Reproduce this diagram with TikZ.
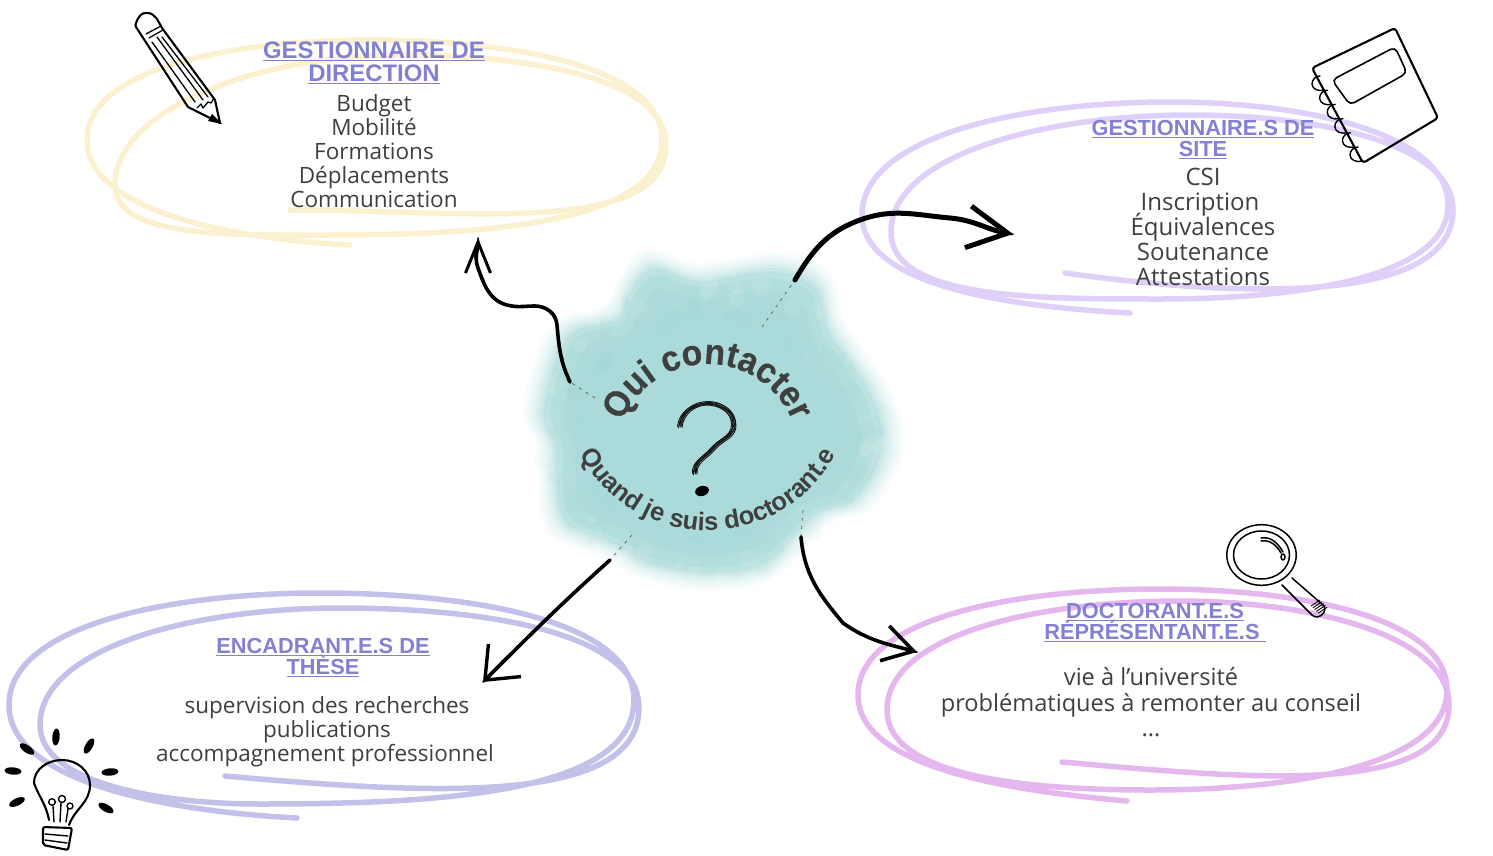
\documentclass[tikz,border=0pt]{standalone}
\usepackage{fontspec}
\setmainfont{Open Sans}
\newfontfamily\titlefont{Liberation Sans}
\newfontfamily\roundfont[FakeStretch=.94,BoldFeatures={FakeBold=.4}]{Liberation Sans}
\usetikzlibrary{arrows.meta,decorations.text,decorations.pathmorphing}

\definecolor{bodytext}{HTML}{3F3F3F}
\definecolor{titletext}{HTML}{8280D2}
\definecolor{blobteal}{HTML}{88CBCA}
\definecolor{loopyellow}{HTML}{FBF0CF}
\definecolor{looplilac}{HTML}{DFD0FA}
\definecolor{loopblue}{HTML}{C3C1E9}
\definecolor{looppink}{HTML}{E4B7EE}

\lineskiplimit=-100pt

\tikzset{
    x=1pt, y=-1pt,
    vtoh/.style={out looseness=.62,in looseness=1.15},
    htov/.style={out looseness=1.15,in looseness=.62},
    loopline/.style={line width=5.5pt,line cap=round,line join=round},
    ink/.style={line width=2.1pt,line cap=round,line join=round},
    inkrough/.style={postaction={draw, arrows=-, line width=1.6pt,
        decorate, decoration={random steps,segment length=3pt,amplitude=1.1pt}}},
    inkarrow/.style={line width=3.6pt,line cap=round,inkrough},
    inkfade/.style={line width=.8pt,black!60,dash pattern=on 3pt off 5pt},
    titlenode/.style={align=center,text=titletext,inner sep=0pt,
        font=\titlefont\bfseries\fontsize{21.8}{21}\selectfont},
    bodynode/.style={align=center,text=bodytext,inner sep=0pt,
        font=\fontsize{22.5}{24}\selectfont},
}

\begin{document}
\begin{tikzpicture}

    \useasboundingbox (0,0) rectangle (1493,856);

    % watercolour
    \foreach \s/\o in {1.10/.05,1.08/.06,1.06/.07,1.04/.09,1.02/.12,1.0/.16,.98/.2,.94/.2,.86/.12,.76/.1}
    {
        \fill [blobteal, fill opacity=\o, scale around={\s:(708,430)}]
            plot [smooth cycle, tension=.6] coordinates {
                (660,266) (700,278) (773,268) (818,285) (832,330)
                (872,390) (886,447) (858,500) (817,517) (767,565)
                (707,576) (650,566) (610,545) (560,520) (552,447)
                (540,410) (565,335) (615,318) (625,295) (643,270)
            };
    }
    \pgfmathsetseed{11}
    \foreach \i in {1,...,120}
    {
        \pgfmathsetmacro\ang{rnd*360}
        \pgfmathsetmacro\rad{.75+rnd*.3}
        \pgfmathsetmacro\dot{3+rnd*8}
        \fill [blobteal, fill opacity=.05]
            (708+\rad*170*cos \ang,430+\rad*145*sin \ang) circle (\dot pt)
            ;
    }
    \foreach \i in {1,...,60}
    {
        \pgfmathsetmacro\ang{rnd*360}
        \pgfmathsetmacro\rad{.92+rnd*.14}
        \pgfmathsetmacro\dot{3+rnd*7}
        \fill [white, fill opacity=.08]
            (708+\rad*170*cos \ang,430+\rad*145*sin \ang) circle (\dot pt)
            ;
    }

    % the four loops
    \draw [loopline, loopyellow]
        (350,245)
        to[out=177,in=-90,htov]
        (87,140)
        to[out=90,in=180,vtoh]
        (370,40)
        to[out=0,in=90,htov]
        (662,140)
        to[out=-90,in=0,vtoh]
        (330,235)
        to[out=180,in=-90,htov]
        (115,185)
        to[out=90,in=180,vtoh]
        (400,55)
        to[out=0,in=90,htov]
        (666,145)
        to[out=-90,in=0,vtoh]
        (290,210)
        ;

    \draw [loopline, looplilac]
        (1130,313)
        to[out=177,in=-90,htov]
        (862,215)
        to[out=90,in=180,vtoh]
        (1170,102)
        to[out=0,in=90,htov]
        (1448,205)
        to[out=-90,in=0,vtoh]
        (1160,299)
        to[out=180,in=-90,htov]
        (891,232)
        to[out=90,in=180,vtoh]
        (1190,115)
        to[out=0,in=90,htov]
        (1453,210)
        to[out=-90,in=-8,vtoh]
        (1065,273)
        ;

    \draw [loopline, loopblue]
        (297,818)
        to[out=177,in=-90,htov]
        (9,705)
        to[out=90,in=180,vtoh]
        (320,593)
        to[out=0,in=90,htov]
        (634,700)
        to[out=-90,in=0,vtoh]
        (260,804)
        to[out=180,in=-90,htov]
        (40,725)
        to[out=90,in=180,vtoh]
        (340,608)
        to[out=0,in=90,htov]
        (639,708)
        to[out=-90,in=-5,vtoh]
        (225,776)
        ;

    \draw [loopline, looppink]
        (1127,801)
        to[out=175,in=-90,htov]
        (858,695)
        to[out=90,in=180,vtoh]
        (1160,589)
        to[out=0,in=90,htov]
        (1447,690)
        to[out=-90,in=0,vtoh]
        (1150,790)
        to[out=180,in=-90,htov]
        (887,710)
        to[out=90,in=180,vtoh]
        (1180,601)
        to[out=0,in=90,htov]
        (1449,705)
        to[out=-90,in=-5,vtoh]
        (1062,762)
        ;

    % texts
    \node [titlenode, font=\titlefont\bfseries\fontsize{23.9}{23}\selectfont] (direction) at (374,63)
        {\underline{GESTIONNAIRE DE}\\\underline{DIRECTION}};
    \node [bodynode] (directionlist) at (374,151)
        {Budget\\Mobilité\\Formations\\Déplacements\\Communication};

    \node [titlenode] (site) at (1203,139.5)
        {\underline{GESTIONNAIRE.S DE}\\\underline{SITE}};
    \node [bodynode, font=\fontsize{24}{25.2}\selectfont] (sitelist) at (1203,227)
        {CSI\\\hspace*{-6pt}Inscription\\Équivalences\\Soutenance\\Attestations};

    \node [titlenode] (these) at (323,657.5)
        {\underline{ENCADRANT.E.S DE}\\\underline{THÈSE}};
    \node [bodynode] (theselist) at (325,732)
        {\hspace*{4pt}supervision des recherches\\\hspace*{4pt}publications\\accompagnement professionnel};

    \node [titlenode] (representants) at (1155,622.5)
        {\underline{DOCTORANT.E.S}\\\underline{RÉPRÉSENTANT.E.S\ }};
    \node [bodynode, font=\fontsize{23.6}{25.5}\selectfont] (representantslist) at (1151,702.5)
        {vie à l’université\\problématiques à remonter au conseil\\...};

    % round texts
    \path [decorate, decoration={text along path, text align=center,
            text={|\roundfont\bfseries\fontsize{36}{36}\selectfont\color{bodytext}|Qui contacter}}]
        (618.6,432.3)
        arc[start angle=165,end angle=15,radius=92pt]
        ;

    \path [decorate, decoration={text along path, text align=center,
            text={|\titlefont\bfseries\fontsize{25.5}{25.5}\selectfont\color{bodytext}|Quand je suis doctorant.e}}]
        (576,446.5)
        arc[start angle=205,end angle=335,radius=145.6pt]
        ;

    % question mark
    \foreach \dx/\dy in {0/0,1.5/1,-1.5/.5,2.5/-.5,-.5/2,1/-1.5,3/1.5}
    {
        \draw [line width=.9pt, line cap=round, bodytext!30!black, shift={(\dx,\dy)}]
            (679,426)
            to[out=85,in=180]
            (707,403)
            to[out=0,in=90]
            (733,424)
            to[out=-90,in=50]
            (712,448)
            to[out=230,in=95]
            (694,473)
            ;
    }
    \fill [black, rotate around={15:(702,491)}]
        (702,491) ellipse (7 and 5)
        ;

    % arrows
    \coordinate (qa) at (570,382);
    \coordinate (qb) at (795,280);
    \coordinate (qc) at (610,560);
    \coordinate (qd) at (801,537);
    \coordinate (fa) at (595,398);
    \coordinate (fb) at (762,327);
    \coordinate (fc) at (632,535);
    \coordinate (fd) at (803,510);
    \coordinate (ta) at (478,238);
    \coordinate (tb) at (1013,234);
    \coordinate (tc) at (483,682);
    \coordinate (td) at (917,652);

    \draw [inkfade] (fa) -- (qa);
    \draw [inkfade] (fb) -- (qb);
    \draw [inkfade] (fc) -- (qc);
    \draw [inkfade] (fd) -- (qd);

    \draw [inkarrow, -{Straight Barb[length=31pt,width=25pt,line width=3pt]}]
        (qa)
        to[out=115,in=-85]
        (557,325)
        to[out=95,in=0]
        (535,306)
        to[out=180,in=-15]
        (507,305)
        to[out=165,in=-70]
        (478,268)
        to[out=110,in=-90]
        (ta)
        ;

    \draw [inkarrow, line width=5pt, -{Straight Barb[length=40pt,width=42pt,line width=5pt]}]
        (qb)
        to[out=60,in=-160]
        (860,220)
        to[out=20,in=175]
        (950,218)
        to[out=-5,in=171]
        (tb)
        ;

    \draw [inkarrow, -{Straight Barb[length=28pt,width=46pt,line width=3.4pt]}]
        (qc)
        to[out=-138,in=45]
        (tc)
        ;

    \draw [inkarrow, -{Straight Barb[length=30pt,width=36pt,line width=3.6pt]}]
        (qd)
        to[out=-85,in=130]
        (843,623)
        to[out=-35,in=165]
        (td)
        ;

    % pencil
    \draw [ink]
        (136,23)
        to[out=70,in=170]
        (147,13)
        to[out=0,in=120]
        (162,28)
        -- (215,100)
        -- (220,123)
        -- (188,107)
        -- (136,27)
        to[out=120,in=-110]
        (136,23)
        ;
    \draw [ink, line width=1.3pt]
        (146,34) -- (161,26)
        (149,38) -- (163,30)
        (152,42) -- (195,102)
        (157,37) -- (203,100)
        (162,37) -- (208,97)
        (197,108) -- (201,104) -- (203,108) -- (208,102) -- (211,103) -- (214,98)
        ;
    \fill
        (212,114) -- (222,124) -- (208,121) -- cycle
        ;

    % notebook
    \draw [ink, rounded corners=3pt]
        (1312,68) -- (1395,28) -- (1438,118) -- (1363,163) -- cycle
        ;
    \draw [ink, line width=1.6pt, rounded corners=5pt]
        (1332,80) -- (1395,47) -- (1407,73) -- (1350,105) -- cycle
        ;
    \foreach \i in {0,...,5}
    {
        \draw [ink, line width=1.4pt, shift={(\i*7.6,\i*14.2)}]
            (1320,76)
            to[out=180,in=90]
            (1312,84)
            to[out=-90,in=200]
            (1324,90)
            ;
    }

    % bulb
    \draw [ink]
        (49,820)
        to[out=100,in=-70]
        (34,783)
        to[out=90,in=180]
        (62,760)
        to[out=0,in=90]
        (90,785)
        to[out=-90,in=70]
        (69,825)
        ;
    \draw [ink, rounded corners=2pt]
        (43,827) -- (72,828) -- (68,850) -- (43,845) -- cycle
        ;
    \draw [ink, line width=1.4pt]
        (45,834) -- (68,836)
        (45,840) -- (67,843)
        (52,802) circle (3.3)
        (62,799) circle (3.5)
        (70,806) circle (3)
        (53,806) -- (54,822)
        (61,803) -- (60,822)
        (68,809) -- (66,822)
        ;
    \foreach \x/\y/\a in {56/737/85,27/749/-35,13/771/-5,17/802/25,106/808/-30,110/772/5,89/746/60}
    {
        \fill [rotate around={\a:(\x,\y)}]
            (\x,\y) ellipse (8.5 and 3.7)
            ;
    }

    % magnifier
    \draw [ink, line width=1.5pt]
        (1261.5,555) ellipse (34.7 and 30.3)
        (1261.5,555) ellipse (28 and 24)
        (1282,585) -- (1312,615)
        (1292,578) -- (1323,605)
        (1312,615)
        to[out=-45,in=-45,looseness=1.5]
        (1323,605)
        (1261,538)
        to[out=10,in=120]
        (1283,552)
        (1261,541)
        to[out=10,in=120]
        (1281,553)
        (1283,557) ellipse (2 and 3)
        ;
    \foreach \i in {0,...,4}
    {
        \draw [line width=.9pt, shift={(\i*1.8,\i*1.8)}]
            (1311,606) -- (1320,600)
            ;
    }

\end{tikzpicture}
\end{document}
